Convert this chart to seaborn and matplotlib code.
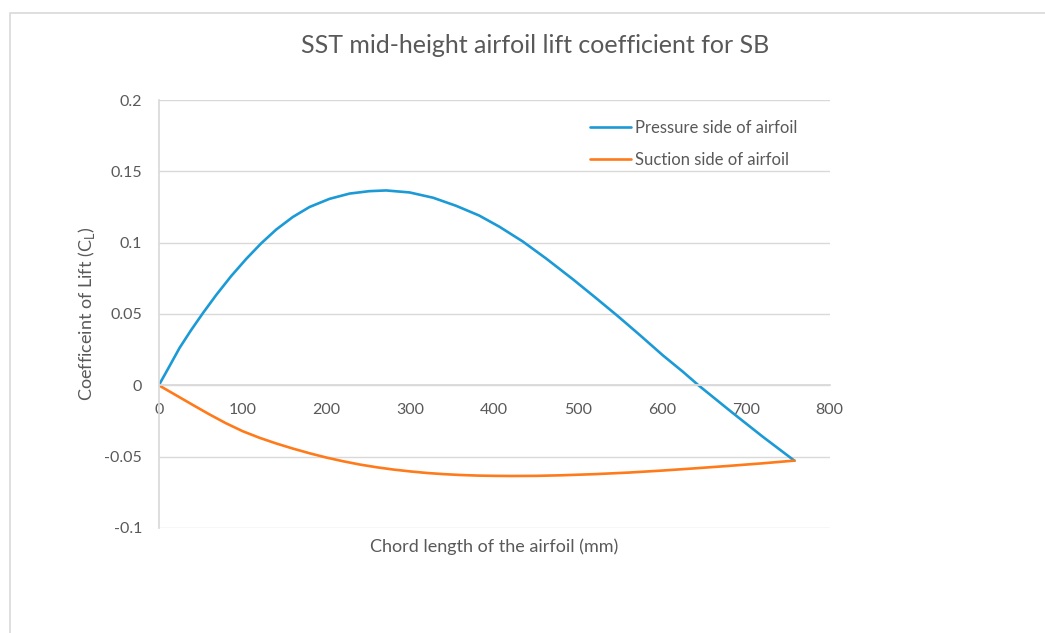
import matplotlib
matplotlib.use("Agg")
import matplotlib.pyplot as plt
import pandas as pd
import seaborn as sns
from matplotlib.patches import Rectangle

# values
pressure_x = [0, 12.8, 24.7, 38.6, 52.8, 68.4, 86.3, 104.2, 122, 140, 159.8, 179.7, 203.5,
              227.4, 251, 271, 299, 327, 354.6, 382, 406, 434, 462, 494, 521.6, 547.3, 573,
              601, 624.9, 643.5, 684.5, 720, 758]
pressure_cl = [0.0, 0.0135, 0.0262, 0.0388, 0.0508, 0.0633, 0.0766, 0.0886, 0.0995, 0.1092,
               0.1180, 0.1250, 0.1307, 0.1344, 0.1361, 0.1366, 0.1352, 0.1315, 0.1258,
               0.1190, 0.1112, 0.1008, 0.0888, 0.0742, 0.0610, 0.0485, 0.0355, 0.0210,
               0.0095, 0.0, -0.0195, -0.0360, -0.0529]
suction_x = [0, 20, 40, 60, 80, 100, 120, 140, 160, 180, 200, 220, 240, 260, 280, 300, 320,
             340, 360, 380, 400, 420, 450, 480, 520, 560, 600, 640, 680, 720, 758]
suction_cl = [0.0, -0.0068, -0.0136, -0.0203, -0.0266, -0.0322, -0.0368, -0.0408, -0.0444,
              -0.0477, -0.0507, -0.0533, -0.0556, -0.0575, -0.0591, -0.0604, -0.0615,
              -0.0623, -0.0629, -0.0633, -0.0635, -0.0636, -0.0635, -0.0631, -0.0623,
              -0.0612, -0.0598, -0.0582, -0.0565, -0.0547, -0.0528]

labels = ["Pressure side of airfoil", "Suction side of airfoil"]
colors = ["#1B9AD6", "#FF7A1A"]

df = pd.concat([
    pd.DataFrame({"x": pressure_x, "cl": pressure_cl, "side": labels[0]}),
    pd.DataFrame({"x": suction_x, "cl": suction_cl, "side": labels[1]}),
])

sns.set_theme(style="white")
plt.rcParams["font.family"] = ["Lato", "DejaVu Sans"]
text_grey = "#595959"
grid_grey = "#D9D9D9"

fig = plt.figure(figsize=(10.45, 6.33), dpi=100)
# chart-area border, runs off the right and bottom edges like the original
fig.patches.append(Rectangle((10 / 1045, -0.2), 1.2, 1.2 - 13 / 633,
                             transform=fig.transFigure, fill=False,
                             edgecolor=grid_grey, linewidth=1.2))
ax = fig.add_axes([0.152, 0.166, 0.642, 0.676])

sns.lineplot(data=df, x="x", y="cl", hue="side", palette=colors, sort=False,
             estimator=None, linewidth=1.9, ax=ax)

ax.set_xlim(0, 800)
ax.set_ylim(-0.1, 0.2)
ax.set_xticks(range(0, 801, 100))
ax.set_yticks([-0.1, -0.05, 0, 0.05, 0.1, 0.15, 0.2])
ax.set_yticklabels(["-0.1", "-0.05", "0", "0.05", "0.1", "0.15", "0.2"])
ax.yaxis.grid(True, color=grid_grey, linewidth=1)
ax.xaxis.grid(False)
ax.set_axisbelow(True)

for side in ["top", "right"]:
    ax.spines[side].set_visible(False)
ax.spines["left"].set_color(grid_grey)
ax.spines["bottom"].set_position(("data", 0))
ax.spines["bottom"].set_color(grid_grey)
ax.tick_params(axis="both", length=0, labelsize=11.5, colors=text_grey)
ax.tick_params(axis="x", pad=13)
ax.tick_params(axis="y", pad=12)

ax.set_xlabel("Chord length of the airfoil (mm)", fontsize=13, color=text_grey)
ax.xaxis.set_label_coords(0.5, -0.025)
ax.xaxis.label.set_verticalalignment("top")
ax.set_ylabel(r"Coefficeint of Lift (C$_\mathregular{L}$)", fontsize=13, color=text_grey)
ax.yaxis.set_label_coords(-0.092, 0.5)

fig.text(0.512, 0.928, "SST mid-height airfoil lift coefficient for SB",
         ha="center", va="center", fontsize=18, color=text_grey)

leg = ax.legend(loc="upper left", bbox_to_anchor=(0.642, 0.953), frameon=False,
                borderaxespad=0, borderpad=0, fontsize=12, labelspacing=0.95,
                handlelength=2.5, handletextpad=0.2, title=None)
for t in leg.get_texts():
    t.set_color(text_grey)

fig.savefig("out.png", dpi=100)
